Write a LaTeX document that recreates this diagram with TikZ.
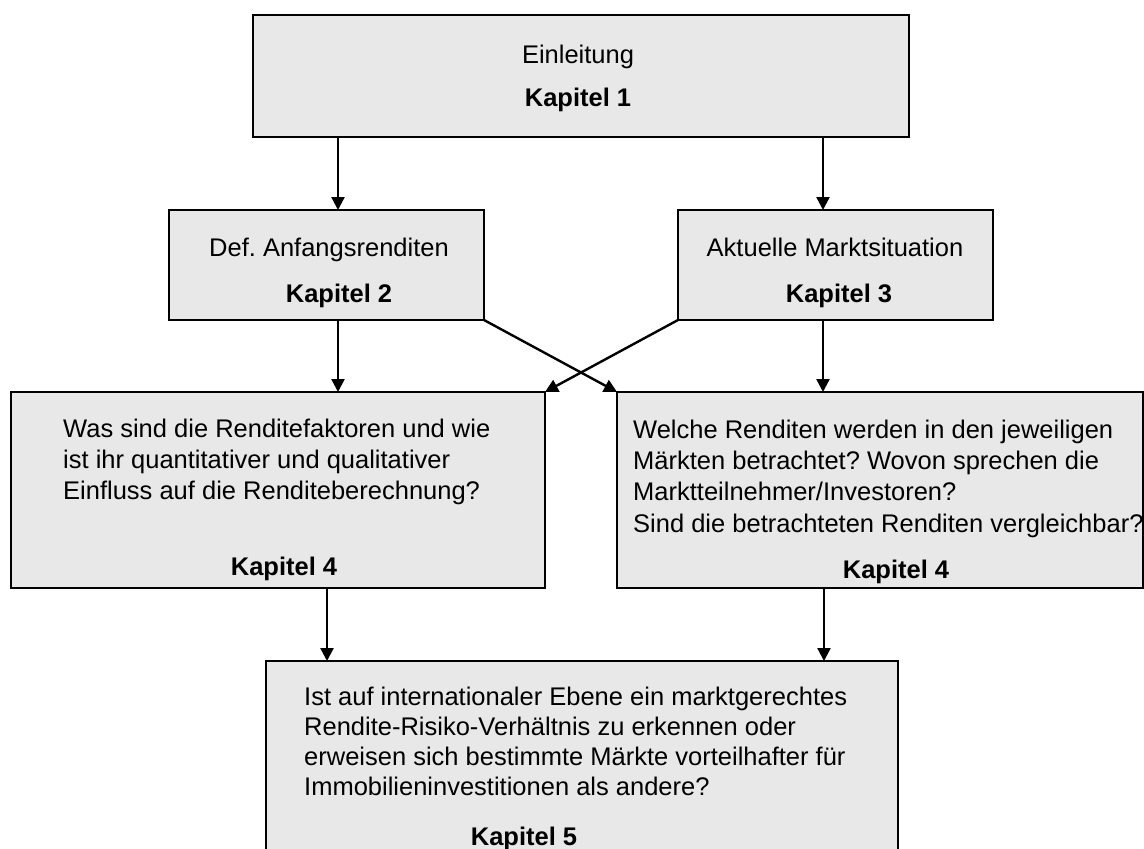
\documentclass[tikz,border=0pt]{standalone}
\usepackage{fontspec}
\setmainfont{Liberation Sans}
\usetikzlibrary{arrows.meta}
\definecolor{boxgray}{RGB}{232,232,232}
\frenchspacing
\tikzset{
  box/.style={draw=black, line width=1.8pt, fill=boxgray, inner sep=0pt, outer sep=0pt},
  txt/.style={font=\fontsize{25.5}{31}\selectfont, inner sep=0pt, anchor=base west},
  ctxt/.style={font=\fontsize{25.5}{31}\selectfont, inner sep=0pt, anchor=base},
  kap/.style={font=\fontsize{25.5}{31}\selectfont\bfseries, inner sep=0pt, anchor=base},
  arr/.style={line width=2.4pt, -{Triangle[length=13pt,width=13pt]}}
}
\begin{document}
\begin{tikzpicture}[x=1pt,y=-1pt]
\useasboundingbox (0,0) rectangle (1144,849);
\clip (0,0) rectangle (1144,849);
% boxes
\node[box, minimum width=656pt, minimum height=122pt] (B1) at (581,76) {};
\node[box, minimum width=315pt, minimum height=110pt] (B2) at (326.5,265) {};
\node[box, minimum width=315pt, minimum height=110pt] (B3) at (835.5,265) {};
\node[box, minimum width=534pt, minimum height=196pt] (B4) at (278,490) {};
\node[box, minimum width=526pt, minimum height=196pt] (B5) at (880,490) {};
\node[box, minimum width=632pt, minimum height=239pt] (B6) at (582,780.5) {};
% texts
\node[ctxt] (t1) at (578,63) {Einleitung};
\node[kap] (k1) at (578,106) {Kapitel 1};
\node[ctxt] (t2) at (329,256) {Def. Anfangsrenditen};
\node[kap] (k2) at (339,302) {Kapitel 2};
\node[ctxt] (t3) at (835,256) {Aktuelle Marktsituation};
\node[kap] (k3) at (839,302) {Kapitel 3};
\node[txt] (t4a) at (63,437) {Was sind die Renditefaktoren und wie};
\node[txt] (t4b) at (63,468) {ist ihr quantitativer und qualitativer};
\node[txt] (t4c) at (63,499) {Einfluss auf die Renditeberechnung?};
\node[kap] (k4) at (284,575) {Kapitel 4};
\node[txt] (t5a) at (633,438) {Welche Renditen werden in den jeweiligen};
\node[txt] (t5b) at (633,469) {Märkten betrachtet? Wovon sprechen die};
\node[txt] (t5c) at (633,500) {Marktteilnehmer/Investoren?};
\node[txt] (t5d) at (633,532) {Sind die betrachteten Renditen vergleichbar?};
\node[kap] (k5) at (896,578) {Kapitel 4};
\node[txt] (t6a) at (304,705) {Ist auf internationaler Ebene ein marktgerechtes};
\node[txt] (t6b) at (304,735) {Rendite-Risiko-Verhältnis zu erkennen oder};
\node[txt] (t6c) at (304,765) {erweisen sich bestimmte Märkte vorteilhafter für};
\node[txt] (t6d) at (304,795) {Immobilieninvestitionen als andere?};
\node[kap] (k6) at (524,845) {Kapitel 5};
% connector x positions
\coordinate (xL) at (338,0);
\coordinate (xR) at (823,0);
\coordinate (xB) at (327,0);
\coordinate (xB2) at (824,0);
% connectors
\draw[arr] (B1.south -| xL) -- (B2.north -| xL);
\draw[arr] (B1.south -| xR) -- (B3.north -| xR);
\draw[arr] (B2.south -| xL) -- (B4.north -| xL);
\draw[arr] (B3.south -| xR) -- (B5.north -| xR);
\draw[arr] (B2.south east) -- (B5.north west);
\draw[arr] (B3.south west) -- (B4.north east);
\draw[arr] (B4.south -| xB) -- (B6.north -| xB);
\draw[arr] (B5.south -| xB2) -- (B6.north -| xB2);
\end{tikzpicture}
\end{document}
